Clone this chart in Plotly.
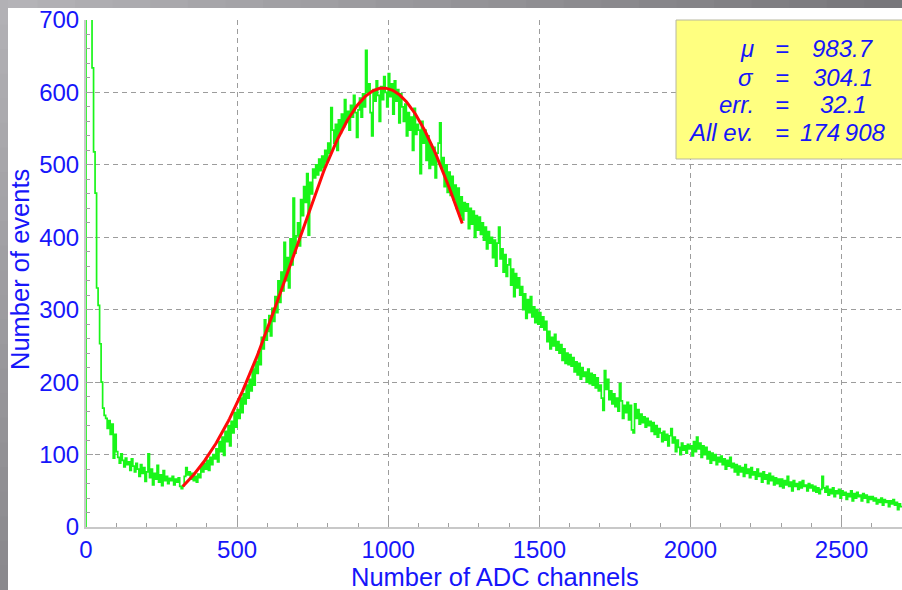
import plotly.graph_objects as go
import numpy as np

# ---------------- data ----------------
BIN_WIDTH = 5          # ADC channels per histogram bin
FIRST_CHANNEL = 0

counts = [
    # 0 - 95
    2600, 1800, 1200, 880, 634, 518, 461, 330, 306, 253, 200, 164, 154, 150, 136, 147, 128, 142, 95, 128,
    # 100 - 195
    104, 96, 88, 101, 92, 83, 95, 86, 90, 78, 94, 84, 76, 88, 80, 70, 86, 74, 82, 63,
    # 200 - 295
    76, 101, 68, 80, 58, 74, 66, 85, 62, 72, 57, 78, 64, 70, 60, 67, 64, 70, 58, 66,
    # 300 - 395
    62, 68, 56, 53, 57, 70, 82, 72, 76, 66, 74, 64, 70, 62, 73, 68, 84, 76, 88, 80,
    # 400 - 495
    92, 78, 96, 86, 100, 94, 108, 90, 118, 104, 124, 99, 132, 118, 140, 112, 146, 130, 158, 138,
    # 500 - 595
    162, 150, 178, 158, 184, 170, 196, 178, 204, 188, 218, 196, 228, 212, 242, 224, 262, 246, 286, 258,
    # 600 - 695
    270, 292, 264, 302, 284, 318, 296, 340, 310, 352, 326, 393, 340, 372, 330, 398, 362, 454, 378, 402,
    # 700 - 795
    420, 388, 452, 430, 470, 448, 488, 403, 476, 460, 494, 482, 500, 486, 508, 492, 512, 496, 520, 504,
    # 800 - 895
    530, 516, 579, 548, 530, 556, 520, 562, 544, 570, 552, 590, 560, 574, 548, 582, 566, 596, 572, 538,
    # 900 - 995
    576, 592, 566, 598, 580, 658, 600, 612, 572, 540, 604, 588, 616, 596, 560, 608, 590, 622, 600, 580,
    # 1000 - 1095
    626, 594, 612, 570, 616, 588, 604, 558, 598, 580, 560, 584, 540, 572, 548, 566, 520, 578, 542, 556,
    # 1100 - 1195
    548, 488, 560, 530, 548, 506, 540, 495, 528, 500, 524, 482, 516, 530, 558, 496, 510, 470, 500, 462,
    # 1200 - 1295
    490, 458, 484, 452, 472, 440, 468, 430, 456, 424, 448, 436, 446, 412, 440, 418, 436, 400, 430, 410,
    # 1300 - 1395
    428, 404, 420, 396, 414, 384, 408, 392, 400, 372, 396, 360, 392, 414, 370, 384, 352, 376, 346, 362,
    # 1400 - 1495
    370, 334, 356, 318, 350, 330, 344, 320, 332, 300, 322, 288, 314, 296, 318, 290, 304, 282, 300, 280,
    # 1500 - 1595
    296, 276, 290, 272, 284, 256, 270, 246, 262, 250, 266, 244, 256, 240, 252, 230, 246, 226, 240, 224,
    # 1600 - 1695
    238, 222, 234, 214, 228, 210, 226, 204, 220, 208, 214, 200, 218, 198, 212, 196, 210, 192, 206, 188,
    # 1700 - 1795
    196, 178, 161, 216, 190, 204, 176, 188, 170, 184, 166, 178, 160, 198, 174, 150, 168, 158, 172, 148,
    # 1800 - 1895
    168, 134, 130, 170, 150, 162, 142, 156, 144, 152, 138, 150, 140, 146, 132, 144, 128, 140, 124, 136,
    # 1900 - 1995
    130, 118, 132, 120, 128, 112, 126, 136, 116, 124, 104, 120, 110, 100, 116, 106, 112, 102, 114, 108,
    # 2000 - 2095
    112, 98, 118, 104, 124, 108, 116, 96, 112, 100, 110, 94, 104, 88, 102, 92, 100, 86, 96, 90,
    # 2100 - 2195
    98, 86, 94, 80, 92, 84, 96, 82, 88, 76, 86, 72, 84, 76, 82, 70, 86, 74, 80, 68,
    # 2200 - 2295
    82, 72, 76, 66, 80, 70, 74, 62, 76, 66, 72, 60, 74, 64, 70, 58, 68, 60, 66, 56,
    # 2300 - 2395
    66, 54, 64, 58, 70, 56, 62, 50, 64, 56, 60, 52, 62, 54, 64, 56, 58, 50, 60, 54,
    # 2400 - 2495
    58, 50, 56, 48, 54, 46, 52, 70, 54, 48, 56, 44, 52, 46, 54, 42, 50, 46, 52, 40,
    # 2500 - 2595
    50, 44, 48, 38, 46, 42, 50, 36, 46, 40, 48, 42, 44, 36, 46, 40, 44, 34, 42, 38,
    # 2600 - 2695
    42, 36, 40, 32, 38, 34, 40, 30, 38, 34, 36, 28, 36, 32, 38, 30, 34, 24, 32, 28,
]

# Gaussian fit shown in the box
fit_mu = 983.7
fit_sigma = 304.1
fit_amplitude = 606.0
fit_range = [320, 1245]

stats_labels = ["<i>μ</i>", "<i>σ</i>", "<i>err.</i>", "<i>All ev.</i>"]
stats_values = ["<i>983.7</i>", "<i>304.1</i>", "<i>32.1</i>", "<i>174\u2009908</i>"]

x_tick_vals = [0, 500, 1000, 1500, 2000, 2500]
y_tick_vals = [0, 100, 200, 300, 400, 500, 600, 700]
x_title = "Number of ADC channels"
y_title = "Number of events"

# ---------------- figure ----------------
W, H = 902, 590
ML, MR, MT, MB = 86, 0, 20, 63
PW, PH = W - ML - MR, H - MT - MB

def px(xp):
    return (xp - ML) / PW

def py(yp):
    return (H - MB - yp) / PH

BLUE = "rgb(22,22,250)"
GREEN = "#19f519"
FONT = "Liberation Sans, Arial, sans-serif"

edges = FIRST_CHANNEL + BIN_WIDTH * np.arange(len(counts) + 1)
hx = np.concatenate([[edges[0]], edges])
hy = np.concatenate([[0], counts, [counts[-1]]])

fit_x = np.linspace(fit_range[0], fit_range[1], 300)
fit_y = fit_amplitude * np.exp(-0.5 * ((fit_x - fit_mu) / fit_sigma) ** 2)

fig = go.Figure()
fig.add_trace(go.Scatter(x=hx, y=hy, mode="lines", line=dict(color=GREEN, width=1.7, shape="hv"),
                         showlegend=False, hoverinfo="skip"))
fig.add_trace(go.Scatter(x=fit_x, y=fit_y, mode="lines", line=dict(color="#ff0a0a", width=3),
                         showlegend=False, hoverinfo="skip"))

shapes = []
# gray frame with gradient (top band and left band)
n = 24
for i in range(n):
    t = i / (n - 1)
    c = int(180 - 60 * t)
    shapes.append(dict(type="rect", xref="paper", yref="paper", layer="below",
                       x0=px(i * W / n), x1=px((i + 1) * W / n + 1), y0=py(8), y1=py(-2),
                       fillcolor=f"rgb({c},{c-1},{c+3})", line=dict(width=0)))
for i in range(n):
    t = i / (n - 1)
    c = int(178 - 40 * t)
    shapes.append(dict(type="rect", xref="paper", yref="paper", layer="below",
                       x0=px(-2), x1=px(8), y0=py((i + 1) * H / n + 1), y1=py(i * H / n),
                       fillcolor=f"rgb({c},{c-1},{c+3})", line=dict(width=0)))
shapes.append(dict(type="rect", xref="paper", yref="paper", layer="below",
                   x0=px(8), x1=px(W + 5), y0=py(H + 5), y1=py(8),
                   fillcolor="white", line=dict(width=0)))
# yellow stats box
shapes.append(dict(type="rect", xref="paper", yref="paper", layer="above",
                   x0=px(676), x1=px(W + 5), y0=py(159), y1=py(20),
                   fillcolor="#ffff80", line=dict(color="#b8b8a0", width=1)))

annotations = []
row_y = [49, 77, 105, 132]
for lab, val, yy in zip(stats_labels, stats_values, row_y):
    annotations.append(dict(xref="paper", yref="paper", x=px(756), y=py(yy), text=lab,
                            xanchor="right", yanchor="middle", showarrow=False,
                            font=dict(family=FONT, size=24, color=BLUE)))
    annotations.append(dict(xref="paper", yref="paper", x=px(782), y=py(yy), text="<i>=</i>",
                            xanchor="center", yanchor="middle", showarrow=False,
                            font=dict(family=FONT, size=24, color=BLUE)))
    annotations.append(dict(xref="paper", yref="paper", x=px(843), y=py(yy), text=val,
                            xanchor="center", yanchor="middle", showarrow=False,
                            font=dict(family=FONT, size=24, color=BLUE)))

annotations.append(dict(xref="paper", yref="paper", x=px(495), y=py(577), text=x_title,
                        xanchor="center", yanchor="middle", showarrow=False,
                        font=dict(family=FONT, size=25.5, color=BLUE)))
annotations.append(dict(xref="paper", yref="paper", x=px(20), y=py(270), text=y_title,
                        textangle=-90, xanchor="center", yanchor="middle", showarrow=False,
                        font=dict(family=FONT, size=25.5, color=BLUE)))

fig.update_layout(
    width=W, height=H,
    margin=dict(l=ML, r=MR, t=MT, b=MB, pad=0),
    paper_bgcolor="#a9a8ad",
    plot_bgcolor="white",
    shapes=shapes,
    annotations=annotations,
    showlegend=False,
)
fig.update_xaxes(
    range=[0, 2700], tickvals=x_tick_vals, ticks="inside", ticklen=7, tickcolor="#a0a0a0",
    tickfont=dict(family=FONT, size=24, color=BLUE),
    showgrid=True, gridcolor="#9c9c9c", gridwidth=1, griddash="5px,4px",
    showline=True, linecolor="#c8c8c8", linewidth=2, zeroline=False,
    minor=dict(dtick=100, ticks="inside", ticklen=4, tickcolor="#a0a0a0", showgrid=False),
)
fig.update_yaxes(
    range=[0, 700], tickvals=y_tick_vals, ticks="inside", ticklen=7, tickcolor="#a0a0a0",
    tickfont=dict(family=FONT, size=24, color=BLUE),
    showgrid=True, gridcolor="#9c9c9c", gridwidth=1, griddash="5px,4px",
    showline=True, linecolor="#c8c8c8", linewidth=2, zeroline=False,
    minor=dict(dtick=20, ticks="inside", ticklen=4, tickcolor="#a0a0a0", showgrid=False),
)

fig.write_html("out.html")
